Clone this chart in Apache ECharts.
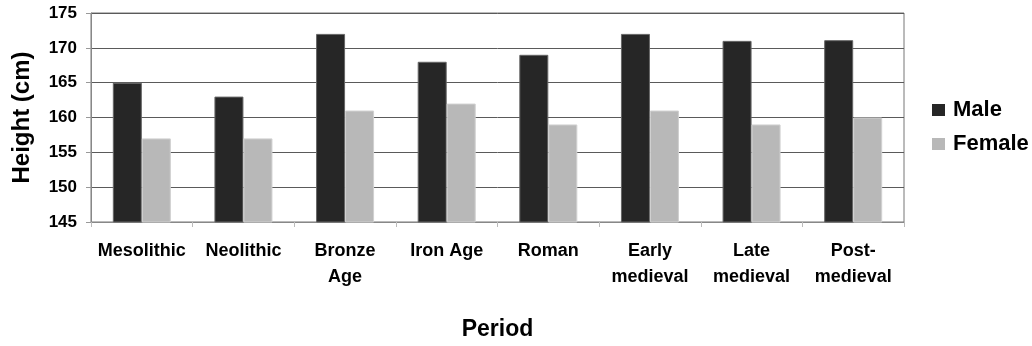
<!DOCTYPE html>
<html>
<head>
<meta charset="utf-8">
<script src="https://cdn.jsdelivr.net/npm/echarts@6/dist/echarts.min.js"></script>
<style>
html,body{margin:0;padding:0;background:#fff;}
#chart{width:1032px;height:346px;}
</style>
</head>
<body>
<div id="chart"></div>
<script>
// Mean stature by archaeological period
const periods = ['Mesolithic', 'Neolithic', 'Bronze\nAge', 'Iron Age', 'Roman', 'Early\nmedieval', 'Late\nmedieval', 'Post-\nmedieval'];
const maleHeights = [165, 163, 172, 168, 169, 172, 171, 171.1];
const femaleHeights = [157, 157, 161, 162, 159, 161, 159, 160];
const yTicks = { min: 145, max: 175, interval: 5 };

const font = '"Liberation Sans", Arial, sans-serif';
const chart = echarts.init(document.getElementById('chart'), null, { renderer: 'canvas' });

chart.setOption({
  animation: false,
  textStyle: { fontFamily: font },
  grid: {
    left: 91, right: 128, top: 13, bottom: 122,
    show: true, borderColor: '#777', borderWidth: 1, backgroundColor: 'transparent'
  },
  legend: {
    orient: 'vertical',
    left: 927, top: 93,
    itemWidth: 13, itemHeight: 12, itemGap: 10,
    icon: 'rect',
    itemStyle: { borderWidth: 0 },
    textStyle: { fontFamily: font, fontSize: 22, fontWeight: 'bold', color: '#000', lineHeight: 24, padding: [0, 0, 0, 3] },
    data: ['Male', 'Female']
  },
  xAxis: {
    type: 'category',
    data: periods,
    name: 'Period',
    nameLocation: 'middle',
    nameGap: 96,
    nameTextStyle: { fontFamily: font, fontSize: 23, fontWeight: 'bold', color: '#000' },
    axisLine: { show: true, lineStyle: { color: '#888', width: 1 } },
    axisTick: { show: true, alignWithLabel: false, length: 5, lineStyle: { color: '#bbb' } },
    axisLabel: {
      interval: 0, margin: 16,
      fontFamily: font, fontSize: 18, fontWeight: 'bold', color: '#000', lineHeight: 26
    }
  },
  yAxis: {
    type: 'value',
    min: yTicks.min, max: yTicks.max, interval: yTicks.interval,
    name: 'Height (cm)',
    nameLocation: 'middle',
    nameGap: 57,
    nameTextStyle: { fontFamily: font, fontSize: 24, fontWeight: 'bold', color: '#000' },
    axisLine: { show: true, lineStyle: { color: '#888' } },
    axisTick: { show: true, length: 5, lineStyle: { color: '#999' } },
    axisLabel: { margin: 14, fontFamily: font, fontSize: 17, fontWeight: 'bold', color: '#000' },
    splitLine: { show: true, lineStyle: { color: '#5a5a5a', width: 1 } }
  },
  series: [
    {
      name: 'Male', type: 'bar', data: maleHeights,
      barWidth: 29, barGap: '0%',
      itemStyle: { color: '#262626', borderColor: '#666', borderWidth: 1 }
    },
    {
      name: 'Female', type: 'bar', data: femaleHeights,
      barWidth: 29,
      itemStyle: { color: '#b8b8b8', borderColor: '#d0d0d0', borderWidth: 1 }
    }
  ]
});
</script>
</body>
</html>
